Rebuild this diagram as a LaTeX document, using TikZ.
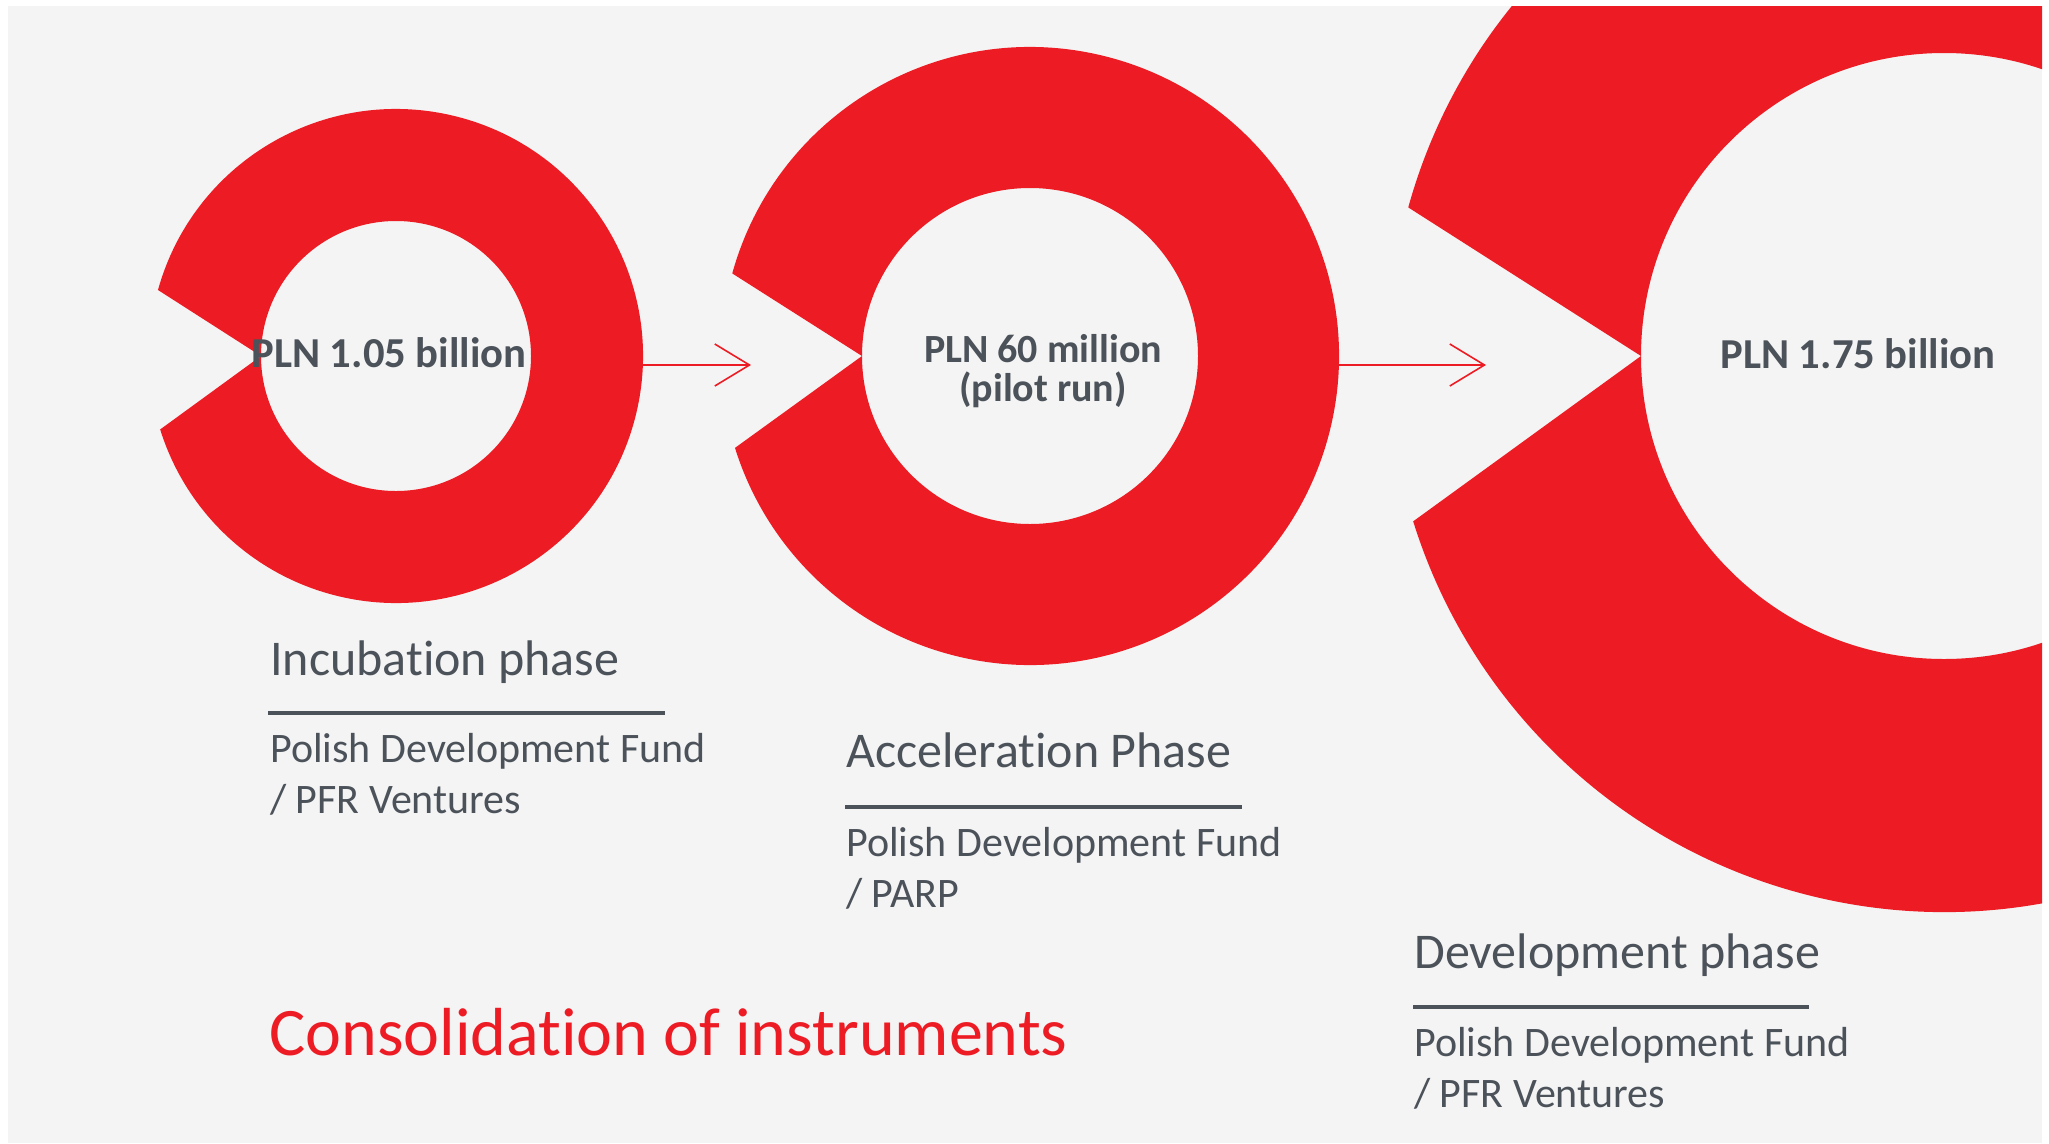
\documentclass[tikz,border=0pt]{standalone}
\usepackage{fontspec}
\setmainfont{Carlito}[Ligatures=NoCommon]
\usetikzlibrary{arrows.meta}
\definecolor{ringred}{RGB}{237,28,36}
\definecolor{slate}{RGB}{76,82,90}
\definecolor{paper}{RGB}{244,244,244}

\begin{document}
\begin{tikzpicture}[x=0.75pt,y=0.75pt,yscale=-1,xscale=1,
  ring/.style={fill=ringred,even odd rule},
  amount/.style={font=\fontsize{32}{29}\selectfont\bfseries,text=slate,inner sep=0pt,align=center,anchor=base},
  phase/.style={font=\fontsize{37.5}{42}\selectfont,text=slate,inner sep=0pt,anchor=base west},
  fund/.style={font=\fontsize{31.5}{38.25}\selectfont,text=slate,inner sep=0pt,anchor=base west,align=left},
  phaserule/.style={draw=slate,line width=3pt},
  flow/.style={draw=ringred,line width=1.2pt,-{Straight Barb[length=26pt,width=31.5pt]}}]

%Shape: Frame
\fill[white] (0,0) rectangle (2049,1143);
\fill[paper] (8,6) rectangle (2042,1143);

\begin{scope}
\clip (8,6) rectangle (2042,1143);
%Shape: Ring [incubation]
\begin{scope}[shift={(396,356)}]
\coordinate (ring1) at (0,0);
\fill[ring] (-135,0) -- (195.5:247) arc[start angle=195.5,end angle=522.7,radius=247] -- cycle (0,0) circle[radius=135];
\end{scope}
%Shape: Ring [acceleration]
\begin{scope}[shift={(1030,356)}]
\coordinate (ring2) at (0,0);
\fill[ring] (-168,0) -- (195.5:309) arc[start angle=195.5,end angle=522.7,radius=309] -- cycle (0,0) circle[radius=168];
\end{scope}
%Shape: Ring [development]
\begin{scope}[shift={(1944,356)}]
\coordinate (ring3) at (0,0);
\fill[ring] (-303,0) -- (195.5:556) arc[start angle=195.5,end angle=522.7,radius=556] -- cycle (0,0) circle[radius=303];
\end{scope}
\end{scope}

%Straight Lines
\coordinate (out1) at (643,365);
\coordinate (in2) at (751,365);
\coordinate (out2) at (1337,365);
\coordinate (in3) at (1486,365);
\draw[flow] (out1) -- (in2);
\draw[flow] (out2) -- (in3);

% Text Node
\node[amount] (amt1) at (389,367) {PLN 1.05 billion};
% Text Node
\node[amount,font=\fontsize{30}{29}\selectfont\bfseries] (amt2) at (1043,401) {PLN 60 million\\(pilot run)};
% Text Node
\node[amount] (amt3) at (1858,368) {PLN 1.75 billion};

% Text Node
\node[phase] (incubation) at (270,675) {Incubation phase};
\draw[phaserule] (268,713) -- (665,713);
\node[fund] (incubation-fund) at (270,813) {Polish Development Fund\\/ PFR Ventures};

% Text Node
\node[phase] (acceleration) at (846,767) {Acceleration Phase};
\draw[phaserule] (845,807) -- (1242,807);
\node[fund] (acceleration-fund) at (846,907) {Polish Development Fund\\/ PARP};

% Text Node
\node[phase] (development) at (1414,968) {Development phase};
\draw[phaserule] (1413,1007) -- (1809,1007);
\node[fund] (development-fund) at (1414,1107) {Polish Development Fund\\/ PFR Ventures};

% Text Node
\node[font=\fontsize{51}{60}\selectfont,text=ringred,anchor=base west,inner sep=0pt] (consolidation) at (269,1055) {Consolidation of instruments};

\end{tikzpicture}
\end{document}
